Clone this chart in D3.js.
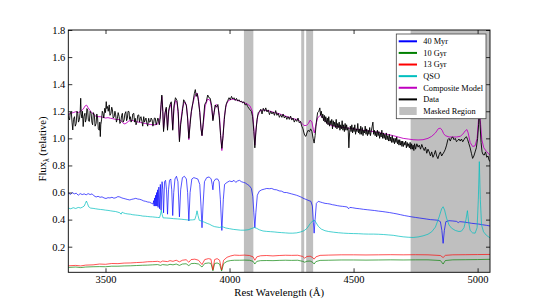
<!DOCTYPE html>
<html><head><meta charset="utf-8">
<script src="https://cdn.jsdelivr.net/npm/d3@7"></script>
<style>
html,body{margin:0;padding:0;background:#fff;}
svg{display:block;font-family:"Liberation Serif","DejaVu Serif",serif;}
</style></head>
<body><svg id="c" width="545" height="303"></svg>
<script>
// ---------- data (rest wavelength in Å, relative flux) ----------
const xTicks = [3500, 4000, 4500, 5000];
const yTicks = [0.2, 0.4, 0.6, 0.8, 1.0, 1.2, 1.4, 1.6, 1.8];
const maskedRegions = [[4058, 4096], [4289, 4301], [4309, 4337], [4730, 5060]];
const legendLabels = ["40 Myr", "10 Gyr", "13 Gyr", "QSO", "Composite Model", "Data", "Masked Region"];

const myr40 = [[3350,0.60],[3358,0.585],[3366,0.60],[3374,0.59],[3382,0.595],[3390,0.58],[3398,0.592],[3406,0.585],[3414,0.59],[3422,0.583],[3430,0.592],[3438,0.585],[3446,0.59],[3454,0.575],[3462,0.567],[3470,0.572],[3478,0.565],[3486,0.568],[3494,0.56],[3502,0.556],[3510,0.562],[3518,0.56],[3526,0.565],[3534,0.558],[3542,0.562],[3550,0.57],[3558,0.567],[3566,0.56],[3574,0.556],[3582,0.552],[3590,0.548],[3598,0.545],[3606,0.55],[3614,0.553],[3622,0.557],[3630,0.552],[3638,0.55],[3646,0.545],[3654,0.538],[3662,0.535],[3670,0.53],[3678,0.528],[3686,0.52],[3692,0.515],[3694,0.54],[3696,0.50],[3698,0.56],[3700,0.50],[3702,0.58],[3704,0.50],[3706,0.60],[3708,0.50],[3710,0.62],[3712,0.49],[3715,0.64],[3718,0.48],[3721,0.66],[3724,0.47],[3728,0.68],[3731,0.62],[3734,0.45],[3738,0.68],[3742,0.69],[3746,0.62],[3750,0.44],[3754,0.62],[3758,0.69],[3763,0.70],[3767,0.62],[3771,0.43],[3775,0.60],[3780,0.70],[3786,0.72],[3792,0.68],[3798,0.42],[3803,0.62],[3810,0.71],[3818,0.72],[3826,0.70],[3831,0.60],[3836,0.39],[3841,0.60],[3848,0.70],[3856,0.71],[3864,0.705],[3872,0.70],[3880,0.66],[3885,0.50],[3889,0.34],[3893,0.50],[3899,0.68],[3908,0.71],[3918,0.715],[3926,0.70],[3930,0.66],[3933,0.62],[3936,0.68],[3944,0.70],[3952,0.70],[3958,0.68],[3963,0.55],[3969,0.32],[3975,0.55],[3980,0.66],[3990,0.675],[4000,0.685],[4010,0.68],[4018,0.69],[4025,0.675],[4032,0.685],[4040,0.69],[4048,0.68],[4056,0.675],[4064,0.67],[4072,0.66],[4080,0.65],[4088,0.63],[4094,0.57],[4098,0.45],[4102,0.34],[4106,0.45],[4112,0.58],[4120,0.61],[4130,0.62],[4140,0.625],[4150,0.63],[4160,0.628],[4170,0.63],[4180,0.622],[4190,0.62],[4200,0.612],[4210,0.61],[4220,0.60],[4230,0.60],[4240,0.595],[4250,0.59],[4260,0.585],[4270,0.58],[4280,0.573],[4290,0.565],[4300,0.555],[4310,0.548],[4320,0.54],[4328,0.535],[4334,0.50],[4338,0.38],[4341,0.30],[4345,0.40],[4350,0.52],[4358,0.535],[4366,0.53],[4375,0.525],[4385,0.52],[4395,0.518],[4405,0.515],[4415,0.51],[4425,0.507],[4435,0.503],[4445,0.50],[4455,0.498],[4465,0.496],[4475,0.493],[4480,0.48],[4485,0.49],[4495,0.488],[4510,0.483],[4525,0.48],[4540,0.476],[4555,0.473],[4570,0.47],[4585,0.467],[4600,0.463],[4615,0.46],[4630,0.456],[4645,0.452],[4660,0.447],[4675,0.442],[4690,0.436],[4705,0.43],[4720,0.425],[4735,0.42],[4750,0.416],[4765,0.412],[4780,0.408],[4795,0.404],[4810,0.40],[4825,0.398],[4840,0.395],[4850,0.385],[4856,0.32],[4861,0.225],[4866,0.32],[4872,0.385],[4885,0.392],[4900,0.39],[4915,0.387],[4922,0.378],[4928,0.385],[4945,0.382],[4960,0.378],[4975,0.373],[4990,0.37],[5005,0.367],[5020,0.362],[5035,0.358],[5050,0.353]];

const gyr10 = [[3350,0.047],[3380,0.05],[3400,0.046],[3420,0.05],[3450,0.052],[3476,0.053],[3500,0.052],[3525,0.056],[3550,0.056],[3575,0.058],[3600,0.059],[3625,0.061],[3650,0.063],[3670,0.064],[3690,0.066],[3710,0.068],[3722,0.062],[3730,0.068],[3750,0.064],[3760,0.07],[3772,0.066],[3785,0.072],[3798,0.062],[3810,0.072],[3825,0.074],[3836,0.06],[3845,0.075],[3860,0.077],[3875,0.072],[3889,0.05],[3900,0.076],[3915,0.08],[3925,0.077],[3933,0.022],[3940,0.076],[3950,0.08],[3960,0.072],[3968,0.02],[3976,0.075],[3990,0.092],[4005,0.098],[4020,0.1],[4040,0.1],[4060,0.101],[4080,0.1],[4095,0.092],[4102,0.072],[4110,0.092],[4125,0.097],[4150,0.098],[4175,0.097],[4200,0.099],[4225,0.1],[4250,0.099],[4275,0.1],[4295,0.092],[4303,0.085],[4312,0.093],[4325,0.094],[4335,0.085],[4341,0.072],[4348,0.09],[4365,0.099],[4400,0.1],[4450,0.102],[4500,0.102],[4550,0.101],[4600,0.102],[4650,0.103],[4700,0.102],[4750,0.103],[4800,0.103],[4850,0.098],[4861,0.072],[4870,0.098],[4900,0.103],[4950,0.104],[5000,0.105],[5050,0.107]];

const gyr13 = [[3350,0.059],[3380,0.062],[3400,0.058],[3420,0.064],[3450,0.066],[3476,0.072],[3500,0.07],[3525,0.076],[3550,0.075],[3575,0.079],[3600,0.08],[3625,0.083],[3650,0.085],[3670,0.089],[3690,0.09],[3710,0.092],[3722,0.086],[3730,0.094],[3750,0.09],[3760,0.097],[3772,0.092],[3785,0.1],[3798,0.088],[3810,0.1],[3825,0.104],[3836,0.085],[3845,0.105],[3860,0.108],[3875,0.1],[3889,0.068],[3900,0.105],[3915,0.112],[3925,0.108],[3933,0.03],[3940,0.105],[3950,0.112],[3960,0.1],[3968,0.028],[3976,0.1],[3990,0.122],[4005,0.132],[4020,0.138],[4040,0.136],[4060,0.138],[4080,0.135],[4095,0.125],[4102,0.1],[4110,0.125],[4125,0.133],[4150,0.135],[4175,0.132],[4200,0.135],[4225,0.137],[4250,0.136],[4275,0.137],[4295,0.128],[4303,0.115],[4312,0.128],[4325,0.13],[4335,0.12],[4341,0.108],[4348,0.125],[4365,0.136],[4400,0.138],[4450,0.14],[4500,0.14],[4550,0.139],[4600,0.14],[4650,0.141],[4700,0.14],[4750,0.141],[4800,0.14],[4850,0.135],[4861,0.12],[4870,0.136],[4900,0.14],[4950,0.141],[5000,0.142],[5050,0.143]];

const qso = [[3350,0.485],[3360,0.48],[3370,0.488],[3380,0.482],[3390,0.49],[3400,0.486],[3408,0.493],[3414,0.50],[3419,0.52],[3423,0.537],[3427,0.52],[3432,0.495],[3440,0.485],[3450,0.483],[3460,0.48],[3470,0.477],[3480,0.475],[3490,0.473],[3500,0.47],[3510,0.468],[3520,0.465],[3530,0.462],[3540,0.46],[3550,0.455],[3558,0.45],[3563,0.44],[3567,0.455],[3572,0.45],[3580,0.445],[3590,0.442],[3600,0.44],[3610,0.436],[3620,0.434],[3630,0.432],[3640,0.43],[3650,0.426],[3660,0.425],[3670,0.423],[3680,0.421],[3690,0.42],[3700,0.418],[3710,0.416],[3718,0.415],[3722,0.44],[3725,0.47],[3728,0.44],[3732,0.413],[3745,0.412],[3760,0.41],[3775,0.407],[3790,0.405],[3805,0.403],[3820,0.40],[3835,0.397],[3850,0.398],[3860,0.40],[3865,0.43],[3869,0.465],[3873,0.43],[3878,0.395],[3890,0.387],[3900,0.38],[3910,0.372],[3920,0.365],[3930,0.355],[3940,0.348],[3950,0.345],[3960,0.342],[3970,0.348],[3975,0.345],[3985,0.338],[4000,0.333],[4015,0.328],[4030,0.325],[4045,0.322],[4060,0.322],[4075,0.325],[4090,0.335],[4100,0.342],[4110,0.335],[4120,0.325],[4135,0.316],[4150,0.313],[4165,0.311],[4180,0.309],[4195,0.306],[4210,0.304],[4225,0.302],[4240,0.30],[4255,0.30],[4270,0.302],[4285,0.308],[4300,0.318],[4312,0.335],[4325,0.37],[4335,0.39],[4341,0.397],[4348,0.38],[4358,0.35],[4370,0.33],[4385,0.318],[4400,0.312],[4420,0.307],[4440,0.303],[4460,0.30],[4480,0.298],[4500,0.297],[4520,0.296],[4540,0.294],[4560,0.293],[4580,0.293],[4600,0.292],[4620,0.29],[4640,0.287],[4660,0.284],[4680,0.278],[4700,0.273],[4720,0.27],[4740,0.268],[4760,0.272],[4780,0.28],[4800,0.292],[4815,0.31],[4830,0.345],[4845,0.42],[4855,0.48],[4861,0.495],[4867,0.47],[4875,0.41],[4885,0.36],[4895,0.337],[4910,0.32],[4925,0.312],[4935,0.315],[4945,0.34],[4953,0.40],[4959,0.466],[4964,0.38],[4970,0.32],[4980,0.302],[4990,0.30],[4998,0.34],[5003,0.55],[5007,0.828],[5011,0.55],[5016,0.36],[5024,0.31],[5035,0.285],[5050,0.265]];

const composite = [[3350,1.175],[3360,1.185],[3370,1.19],[3380,1.197],[3390,1.19],[3400,1.2],[3410,1.215],[3418,1.24],[3424,1.245],[3430,1.225],[3440,1.2],[3450,1.18],[3460,1.165],[3470,1.16],[3480,1.16],[3490,1.155],[3500,1.15],[3510,1.153],[3520,1.148],[3530,1.145],[3540,1.14],[3550,1.14],[3560,1.135],[3568,1.12],[3575,1.106],[3582,1.11],[3592,1.125],[3602,1.135],[3612,1.13],[3622,1.125],[3632,1.12],[3642,1.118],[3652,1.112],[3662,1.11],[3672,1.105],[3682,1.102],[3692,1.1],[3700,1.1],[3710,1.105],[3716,1.13],[3720,1.15],[3724,1.24],[3727,1.31],[3730,1.24],[3734,1.07],[3740,1.18],[3745,1.22],[3750,1.08],[3755,1.2],[3760,1.23],[3765,1.26],[3771,1.07],[3776,1.22],[3782,1.28],[3788,1.27],[3793,1.18],[3798,0.99],[3803,1.12],[3810,1.22],[3818,1.27],[3826,1.25],[3831,1.15],[3836,0.99],[3841,1.13],[3850,1.24],[3858,1.3],[3864,1.325],[3869,1.335],[3874,1.3],[3880,1.2],[3885,1.08],[3889,1.02],[3894,1.1],[3902,1.24],[3912,1.29],[3922,1.28],[3928,1.22],[3933,1.14],[3938,1.2],[3945,1.25],[3953,1.24],[3960,1.15],[3965,1.0],[3969,0.91],[3973,1.0],[3979,1.16],[3987,1.25],[3996,1.28],[4010,1.29],[4025,1.285],[4040,1.275],[4055,1.265],[4070,1.255],[4082,1.24],[4092,1.2],[4097,1.1],[4102,0.95],[4107,1.08],[4114,1.17],[4124,1.205],[4137,1.21],[4150,1.205],[4165,1.2],[4180,1.19],[4195,1.185],[4210,1.175],[4225,1.165],[4240,1.155],[4255,1.145],[4270,1.14],[4282,1.13],[4292,1.11],[4300,1.095],[4310,1.095],[4318,1.11],[4325,1.135],[4332,1.12],[4338,1.065],[4342,1.04],[4347,1.09],[4355,1.15],[4365,1.17],[4378,1.15],[4390,1.12],[4405,1.1],[4420,1.09],[4440,1.085],[4460,1.08],[4480,1.075],[4500,1.07],[4520,1.065],[4540,1.06],[4560,1.055],[4580,1.05],[4600,1.045],[4620,1.035],[4640,1.028],[4660,1.02],[4680,1.01],[4700,1.0],[4720,0.995],[4740,0.99],[4760,0.988],[4780,0.99],[4800,1.0],[4815,1.015],[4830,1.04],[4842,1.072],[4850,1.075],[4857,1.06],[4863,1.035],[4870,1.02],[4885,1.01],[4900,1.01],[4915,1.01],[4930,1.015],[4940,1.03],[4950,1.055],[4957,1.065],[4962,1.04],[4970,0.97],[4980,0.94],[4990,0.945],[4998,1.0],[5003,1.12],[5007,1.25],[5011,1.13],[5017,0.99],[5025,0.93],[5035,0.905],[5050,0.875]];

const observed = [[3348,1.185],[3351,1.15],[3355,1.136],[3358,1.19],[3362,1.197],[3365,1.12],[3368,1.062],[3371,1.14],[3375,1.16],[3378,1.09],[3382,1.111],[3385,1.2],[3388,1.185],[3391,1.12],[3395,1.14],[3398,1.2],[3400,1.296],[3402,1.18],[3405,1.15],[3407,1.2],[3410,1.087],[3413,1.16],[3417,1.185],[3419,1.12],[3422,1.14],[3425,1.22],[3428,1.21],[3431,1.13],[3435,1.125],[3438,1.2],[3442,1.185],[3445,1.12],[3448,1.1],[3451,1.19],[3455,1.17],[3458,1.09],[3462,1.11],[3465,1.18],[3468,1.15],[3471,1.07],[3475,1.06],[3477,1.12],[3479,1.013],[3481,1.1],[3484,1.136],[3487,1.2],[3490,1.185],[3493,1.15],[3497,1.222],[3500,1.19],[3503,1.271],[3505,1.22],[3508,1.235],[3511,1.2],[3515,1.247],[3518,1.17],[3522,1.185],[3525,1.23],[3528,1.21],[3531,1.15],[3535,1.16],[3538,1.2],[3541,1.173],[3544,1.12],[3548,1.148],[3551,1.19],[3555,1.16],[3558,1.11],[3562,1.124],[3565,1.17],[3568,1.185],[3571,1.12],[3575,1.136],[3578,1.18],[3582,1.197],[3585,1.13],[3588,1.148],[3591,1.2],[3595,1.197],[3597,1.14],[3600,1.16],[3603,1.12],[3607,1.136],[3610,1.18],[3614,1.185],[3617,1.12],[3620,1.148],[3623,1.1],[3627,1.124],[3630,1.17],[3634,1.173],[3637,1.12],[3640,1.148],[3643,1.16],[3647,1.124],[3650,1.09],[3654,1.16],[3657,1.12],[3660,1.136],[3663,1.15],[3667,1.111],[3670,1.09],[3674,1.148],[3677,1.12],[3681,1.124],[3684,1.15],[3688,1.136],[3691,1.09],[3694,1.111],[3697,1.15],[3701,1.148],[3704,1.1],[3708,1.124],[3711,1.15],[3714,1.136],[3717,1.1],[3720,1.14],[3724,1.25],[3727,1.32],[3731,1.2],[3734,1.05],[3740,1.19],[3745,1.23],[3750,1.06],[3755,1.21],[3760,1.25],[3765,1.27],[3771,1.06],[3776,1.24],[3782,1.3],[3788,1.28],[3793,1.2],[3798,0.975],[3803,1.1],[3810,1.2],[3815,1.285],[3820,1.27],[3826,1.24],[3831,1.15],[3836,1.0],[3841,1.1],[3846,1.2],[3852,1.26],[3858,1.33],[3862,1.36],[3866,1.31],[3870,1.33],[3875,1.27],[3880,1.19],[3885,1.07],[3889,1.02],[3894,1.12],[3900,1.25],[3906,1.27],[3912,1.32],[3917,1.3],[3922,1.296],[3928,1.24],[3933,1.13],[3938,1.19],[3942,1.246],[3948,1.23],[3953,1.25],[3958,1.17],[3964,1.02],[3969,0.926],[3974,1.02],[3979,1.14],[3984,1.23],[3988,1.26],[3993,1.28],[3998,1.3],[4003,1.285],[4008,1.31],[4013,1.29],[4018,1.3],[4023,1.28],[4028,1.295],[4033,1.275],[4038,1.285],[4043,1.27],[4048,1.275],[4053,1.262],[4058,1.27],[4063,1.246],[4068,1.255],[4073,1.235],[4078,1.222],[4083,1.21],[4088,1.2],[4093,1.16],[4098,1.05],[4102,0.93],[4106,1.04],[4111,1.14],[4116,1.19],[4121,1.2],[4126,1.215],[4131,1.18],[4136,1.222],[4141,1.2],[4146,1.225],[4151,1.195],[4156,1.21],[4161,1.175],[4166,1.2],[4171,1.18],[4176,1.195],[4181,1.17],[4186,1.205],[4191,1.17],[4196,1.185],[4201,1.155],[4206,1.175],[4211,1.155],[4216,1.18],[4221,1.15],[4226,1.165],[4231,1.14],[4236,1.16],[4241,1.14],[4246,1.165],[4251,1.135],[4256,1.15],[4261,1.12],[4266,1.14],[4271,1.125],[4276,1.15],[4281,1.115],[4286,1.125],[4291,1.09],[4296,1.07],[4300,1.04],[4304,1.02],[4308,1.015],[4312,1.04],[4317,1.06],[4322,1.05],[4327,1.07],[4332,1.05],[4337,1.0],[4341,0.965],[4345,1.02],[4350,1.12],[4355,1.19],[4360,1.2],[4364,1.225],[4367,1.17],[4370,1.2],[4373,1.15],[4376,1.18],[4379,1.13],[4382,1.17],[4385,1.12],[4388,1.16],[4391,1.11],[4394,1.15],[4397,1.1],[4400,1.16],[4403,1.09],[4406,1.13],[4409,1.1],[4412,1.14],[4415,1.07],[4418,1.13],[4421,1.09],[4424,1.12],[4427,1.08],[4430,1.14],[4433,1.07],[4436,1.11],[4439,1.08],[4442,1.12],[4445,1.06],[4448,1.1],[4451,1.07],[4454,1.13],[4457,1.06],[4460,1.1],[4463,1.05],[4466,1.11],[4469,1.06],[4472,1.1],[4475,1.06],[4478,1.08],[4481,0.93],[4484,1.04],[4487,1.09],[4490,1.05],[4493,1.1],[4496,1.04],[4499,1.08],[4502,1.05],[4505,1.1],[4508,1.03],[4511,1.07],[4514,1.05],[4517,1.11],[4520,1.04],[4523,1.07],[4526,1.03],[4529,1.09],[4532,1.03],[4535,1.08],[4538,1.02],[4541,1.06],[4544,1.04],[4547,1.09],[4550,1.03],[4553,1.07],[4556,1.02],[4559,1.06],[4562,1.03],[4565,1.08],[4568,1.02],[4571,1.05],[4575,1.09],[4578,1.12],[4581,1.03],[4584,1.06],[4587,1.02],[4590,1.05],[4593,1.01],[4596,1.06],[4599,1.02],[4602,1.05],[4605,1.0],[4608,1.04],[4611,1.01],[4614,1.06],[4617,1.0],[4620,1.04],[4623,1.0],[4626,1.03],[4629,0.99],[4632,1.04],[4635,0.99],[4638,1.02],[4641,0.98],[4644,1.03],[4647,0.98],[4650,1.01],[4653,0.97],[4656,1.02],[4659,0.97],[4662,1.0],[4665,0.96],[4668,1.0],[4671,0.97],[4674,1.01],[4677,0.96],[4680,0.99],[4683,0.95],[4686,0.99],[4689,0.95],[4692,0.98],[4695,0.94],[4698,0.98],[4701,0.94],[4704,0.97],[4707,0.95],[4710,0.98],[4713,0.93],[4716,0.97],[4719,0.94],[4722,0.96],[4725,0.93],[4728,0.97],[4731,0.92],[4734,0.96],[4737,0.92],[4740,0.95],[4743,0.91],[4746,0.96],[4750,0.92],[4755,0.96],[4760,0.935],[4765,0.95],[4770,0.92],[4775,0.955],[4780,0.93],[4785,0.91],[4790,0.935],[4795,0.89],[4800,0.92],[4805,0.9],[4810,0.87],[4815,0.9],[4820,0.86],[4825,0.88],[4830,0.91],[4835,0.87],[4840,0.85],[4845,0.88],[4850,0.9],[4855,0.87],[4860,0.885],[4865,0.9],[4870,0.92],[4875,0.95],[4880,0.99],[4885,1.0],[4890,0.98],[4895,1.005],[4900,1.01],[4905,0.99],[4910,1.0],[4915,0.975],[4920,0.985],[4925,0.995],[4930,0.98],[4935,0.995],[4940,0.975],[4945,0.99],[4950,1.005],[4955,1.012],[4960,0.99],[4965,0.96],[4970,0.93],[4975,0.89],[4980,0.852],[4985,0.87],[4990,0.9],[4995,0.93],[5000,1.0],[5004,1.1],[5007,1.22],[5010,1.1],[5014,0.97],[5018,0.9],[5022,0.88],[5027,0.877],[5032,0.9],[5037,0.86],[5042,0.87],[5046,0.84],[5050,0.828]];

const seriesList = [
  {name: "40 Myr", data: myr40, color: "#0000ff", op: 0.75},
  {name: "10 Gyr", data: gyr10, color: "#008000", op: 0.75},
  {name: "13 Gyr", data: gyr13, color: "#ff0000", op: 0.75},
  {name: "QSO", data: qso, color: "#00bfbf", op: 0.8},
  {name: "Composite Model", data: composite, color: "#bf00bf", op: 1},
  {name: "Data", data: observed, color: "#000000", op: 1}
];

// ---------- layout ----------
const L = 68.3, R = 490, T = 30, B = 272.3;
const svg = d3.select("#c");
const x = d3.scaleLinear().domain([3350, 5050]).range([L, R]);
const y = d3.scaleLinear().domain([0.011, 1.8]).range([B, T]);

svg.append("defs").append("clipPath").attr("id", "clip")
  .append("rect").attr("x", L).attr("y", T).attr("width", R - L).attr("height", B - T);

const plot = svg.append("g").attr("clip-path", "url(#clip)");
plot.selectAll("rect.mask").data(maskedRegions).enter().append("rect")
  .attr("class", "mask")
  .attr("x", d => x(d[0])).attr("width", d => x(d[1]) - x(d[0]))
  .attr("y", T).attr("height", B - T)
  .attr("fill", "#bfbfbf");

const line = d3.line().x(d => x(d[0])).y(d => y(d[1]));
seriesList.forEach(s => {
  plot.append("path").datum(s.data).attr("d", line)
    .attr("fill", "none").attr("stroke", s.color).attr("stroke-width", 0.9)
    .attr("stroke-opacity", s.op).attr("stroke-linejoin", "round");
});

// ---------- axes ----------
const fontSize = "10.5px";
const ax = svg.append("g").attr("transform", `translate(0,${B})`)
  .call(d3.axisBottom(x).tickValues(xTicks).tickSizeInner(-4).tickSizeOuter(0).tickPadding(3.5).tickFormat(d3.format("d")));
const axT = svg.append("g").attr("transform", `translate(0,${T})`)
  .call(d3.axisTop(x).tickValues(xTicks).tickSizeInner(-4).tickSizeOuter(0).tickFormat(""));
const ay = svg.append("g").attr("transform", `translate(${L},0)`)
  .call(d3.axisLeft(y).tickValues(yTicks).tickSizeInner(-4).tickSizeOuter(0).tickPadding(3).tickFormat(d3.format(".1f")));
const ayR = svg.append("g").attr("transform", `translate(${R},0)`)
  .call(d3.axisRight(y).tickValues(yTicks).tickSizeInner(-4).tickSizeOuter(0).tickFormat(""));
[ax, axT, ay, ayR].forEach(g => {
  g.select(".domain").remove();
  g.selectAll("line").attr("stroke", "#000").attr("stroke-width", 0.8);
  g.selectAll("text").attr("font-family", "Liberation Serif, DejaVu Serif, serif")
    .attr("font-size", fontSize).attr("fill", "#000");
});

svg.append("rect").attr("x", L).attr("y", T).attr("width", R - L).attr("height", B - T)
  .attr("fill", "none").attr("stroke", "#000").attr("stroke-width", 0.9);

// axis titles
svg.append("text").attr("x", (L + R) / 2).attr("y", 296).attr("text-anchor", "middle")
  .attr("font-size", "10.7px").text("Rest Wavelength (Å)");
const yl = svg.append("text").attr("transform", `translate(46,149) rotate(-90)`)
  .attr("text-anchor", "middle").attr("font-size", "10.7px");
yl.append("tspan").text("Flux");
yl.append("tspan").attr("font-size", "7.5px").attr("dy", "2.5").text("λ");
yl.append("tspan").attr("dy", "-2.5").text(" (relative)");

// ---------- legend ----------
const lg = svg.append("g");
lg.append("rect").attr("x", 396.3).attr("y", 34).attr("width", 89.7).attr("height", 84.7)
  .attr("fill", "#fff").attr("stroke", "#444").attr("stroke-width", 0.8);
const rowY = d3.scaleLinear().domain([0, 6]).range([41.3, 111]);
legendLabels.forEach((lab, i) => {
  const cy = rowY(i);
  if (i < seriesList.length) {
    lg.append("line").attr("x1", 398.7).attr("x2", 417).attr("y1", cy).attr("y2", cy)
      .attr("stroke", seriesList[i].color).attr("stroke-width", 2);
  } else {
    lg.append("rect").attr("x", 399.3).attr("y", cy - 4).attr("width", 17.4).attr("height", 8)
      .attr("fill", "#bfbfbf");
  }
  lg.append("text").attr("x", 423.3).attr("y", cy).attr("dy", "0.33em")
    .attr("font-size", "8.3px").text(lab);
});
</script></body></html>
